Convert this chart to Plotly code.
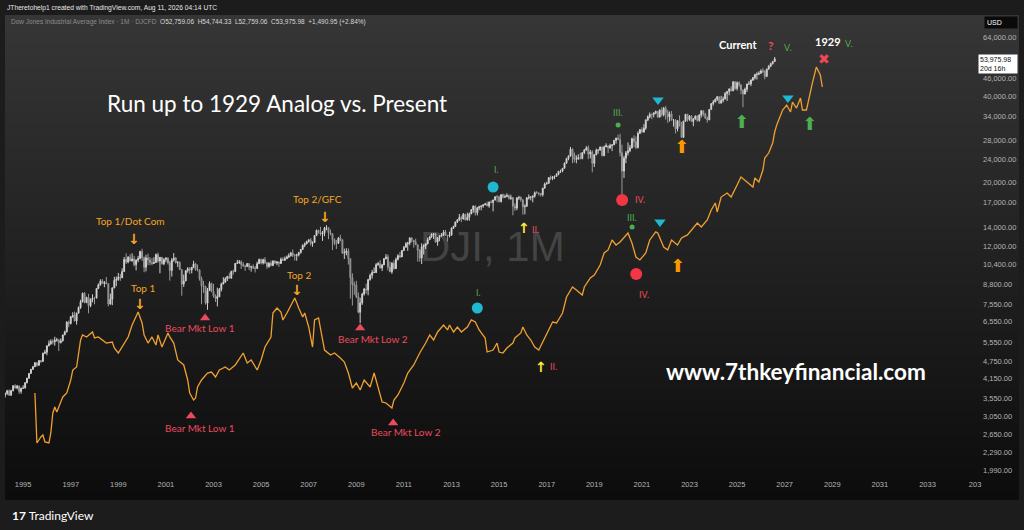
import base64
import math
import struct
import zlib

import pandas as pd
import plotly.graph_objects as go

# DJI monthly candles, Mar 1994 .. Aug 2026 (open = previous close)
first_open = 3829
closes = [
    # 1994 (Mar-Dec)
    3636, 3682, 3758, 3625, 3765, 3913, 3843, 3908, 3739, 3834,
    # 1995
    3844, 4011, 4158, 4321, 4465, 4556, 4709, 4611, 4789, 4756, 5075, 5117,
    # 1996
    5395, 5486, 5587, 5569, 5643, 5655, 5529, 5616, 5882, 6029, 6522, 6448,
    # 1997
    6813, 6878, 6584, 7009, 7331, 7673, 8223, 7622, 7945, 7442, 7823, 7908,
    # 1998
    7907, 8546, 8800, 9063, 8900, 8952, 8883, 7539, 7843, 8592, 9117, 9181,
    # 1999
    9359, 9307, 9786, 10789, 10560, 10971, 10655, 10829, 10337, 10729, 10878, 11497,
    # 2000
    10940, 10128, 10922, 10734, 10522, 10448, 10522, 11215, 10651, 10971, 10415, 10787,
    # 2001
    10887, 10495, 9879, 10735, 10912, 10502, 10523, 9950, 8848, 9075, 9852, 10022,
    # 2002
    9920, 10106, 10404, 9946, 9925, 9243, 8737, 8664, 7592, 8397, 8896, 8342,
    # 2003
    8054, 7891, 7992, 8480, 8850, 8985, 9234, 9416, 9275, 9801, 9782, 10454,
    # 2004
    10488, 10584, 10358, 10226, 10188, 10435, 10140, 10174, 10080, 10027, 10428, 10783,
    # 2005
    10490, 10766, 10504, 10193, 10467, 10275, 10641, 10482, 10569, 10440, 10806, 10718,
    # 2006
    10865, 10993, 11109, 11367, 11168, 11150, 11186, 11381, 11679, 12081, 12222, 12463,
    # 2007
    12622, 12269, 12354, 13063, 13628, 13409, 13212, 13358, 13896, 13930, 13372, 13265,
    # 2008
    12650, 12266, 12263, 12820, 12638, 11350, 11378, 11544, 10851, 9325, 8829, 8776,
    # 2009
    8001, 7063, 7609, 8168, 8500, 8447, 9172, 9496, 9712, 9713, 10345, 10428,
    # 2010
    10067, 10325, 10857, 11009, 10137, 9774, 10466, 10015, 10788, 11118, 11006, 11578,
    # 2011
    11892, 12226, 12320, 12811, 12570, 12414, 12143, 11614, 10913, 11955, 12046, 12218,
    # 2012
    12633, 12952, 13212, 13214, 12393, 12880, 13009, 13091, 13437, 13096, 13026, 13104,
    # 2013
    13861, 14054, 14579, 14840, 15116, 14910, 15500, 14810, 15130, 15546, 16086, 16577,
    # 2014
    15699, 16322, 16458, 16581, 16717, 16827, 16563, 17098, 17043, 17391, 17828, 17823,
    # 2015
    17165, 18133, 17776, 17841, 18011, 17620, 17690, 16528, 16285, 17664, 17720, 17425,
    # 2016
    16466, 16517, 17685, 17774, 17787, 17930, 18432, 18401, 18308, 18142, 19124, 19763,
    # 2017
    19864, 20812, 20663, 20941, 21009, 21350, 21891, 21948, 22405, 23377, 24272, 24719,
    # 2018
    26149, 25029, 24103, 24163, 24416, 24271, 25415, 25965, 26458, 25116, 25538, 23327,
    # 2019
    24999, 25916, 25929, 26593, 24815, 26600, 26864, 26403, 26917, 27046, 28051, 28538,
    # 2020
    28256, 25409, 21917, 24346, 25383, 25813, 26428, 28430, 27782, 26502, 29639, 30606,
    # 2021
    29983, 30932, 32982, 33875, 34529, 34503, 34935, 35361, 33844, 35820, 34484, 36338,
    # 2022
    35132, 33893, 34678, 32977, 32990, 30775, 32845, 31510, 28726, 32733, 34590, 33147,
    # 2023
    34086, 32657, 33274, 34098, 32908, 34408, 35560, 34722, 33508, 33053, 35951, 37690,
    # 2024
    38150, 38996, 39807, 37816, 38686, 39119, 40843, 41563, 42330, 41763, 44911, 42544,
    # 2025
    44545, 43841, 42002, 40669, 42270, 44095, 44131, 45545, 46398, 47563, 47716, 48060,
    # 2026 (Jan-Aug)
    49000, 48800, 46900, 49700, 50900, 51900, 52759.06, 53975.98,
]
highs = [
    3895, 3705, 3790, 3800, 3790, 3930, 3960, 3940, 3920, 3860,
    3930, 4025, 4175, 4330, 4480, 4590, 4730, 4720, 4800, 4810, 5110, 5220,
    5400, 5630, 5680, 5690, 5800, 5750, 5700, 5720, 5900, 6090, 6560, 6600,
    6850, 7060, 7100, 7040, 7400, 7800, 8260, 8300, 8000, 8180, 7900, 8150,
    7990, 8570, 8900, 9200, 9210, 9070, 9370, 8900, 8200, 8600, 9380, 9400,
    9680, 9600, 10050, 11000, 11330, 11080, 11250, 11330, 11100, 10800, 11100, 11570,
    11750, 11040, 11200, 11300, 11000, 10900, 10990, 11310, 11400, 11000, 10980, 10900,
    11000, 10980, 10650, 10900, 11350, 11000, 10650, 10620, 9950, 9550, 9900, 10140,
    10150, 10170, 10670, 10500, 10360, 9950, 9400, 9080, 8740, 8580, 9050, 8950,
    8870, 8150, 8600, 8580, 8950, 9350, 9350, 9450, 9690, 9850, 9930, 10460,
    10750, 10740, 10700, 10560, 10330, 10480, 10460, 10260, 10370, 10240, 10590, 10860,
    10850, 10850, 10990, 10570, 10550, 10680, 10720, 10720, 10650, 10600, 10950, 10990,
    11050, 11140, 11320, 11460, 11680, 11260, 11290, 11460, 11740, 12170, 12360, 12530,
    12690, 12800, 12470, 13130, 13700, 13690, 14020, 13550, 14010, 14200, 13800, 13720,
    13280, 12770, 12620, 12900, 13140, 12650, 11770, 11800, 11790, 10880, 9650, 9030,
    9090, 8280, 7930, 8260, 8580, 8880, 9240, 9630, 9920, 10120, 10470, 10580,
    10730, 10410, 10910, 11260, 11220, 10600, 10550, 10720, 10950, 11250, 11450, 11630,
    12020, 12390, 12420, 12880, 12880, 12620, 12750, 12150, 11720, 12280, 12190, 12290,
    12850, 13050, 13290, 13340, 13340, 12900, 13100, 13330, 13650, 13660, 13100, 13470,
    13960, 14150, 14600, 14890, 15540, 15340, 15660, 15550, 15710, 15720, 16170, 16590,
    16590, 16400, 16590, 16630, 16740, 16980, 17150, 17170, 17350, 17400, 17900, 18100,
    18000, 18200, 18290, 18170, 18350, 18170, 18130, 17820, 16930, 17800, 17980, 17900,
    17400, 16800, 17790, 18170, 17900, 18020, 18620, 18670, 18450, 18400, 19150, 19990,
    20130, 20890, 21170, 21070, 21120, 21530, 21930, 22180, 22420, 23490, 24330, 24880,
    26620, 26310, 25450, 24860, 25090, 25400, 25520, 26170, 26770, 26950, 25980, 25900,
    25100, 26240, 26110, 26700, 26660, 26910, 27400, 26900, 27310, 27200, 28170, 28700,
    29370, 29570, 27100, 24770, 25760, 27580, 27050, 28650, 29200, 28960, 30120, 30640,
    31190, 31960, 33260, 34260, 35090, 34850, 35170, 35630, 35510, 35890, 36570, 36680,
    36950, 35820, 35370, 35490, 33270, 33270, 32910, 34280, 32500, 32830, 34600, 34710,
    34340, 34330, 33570, 34260, 34260, 34590, 35680, 35680, 34980, 34000, 36000, 37780,
    38790, 39290, 40050, 39880, 40080, 39870, 41380, 41590, 42630, 43330, 45070, 45070,
    45050, 45070, 43400, 42200, 42840, 44200, 45150, 45760, 46710, 47850, 48430, 48890,
    49600, 50100, 49300, 49900, 51300, 52300, 53100, 54744.33,
]
lows = [
    3590, 3560, 3630, 3610, 3620, 3740, 3830, 3800, 3670, 3670,
    3820, 3830, 3990, 4140, 4310, 4440, 4550, 4560, 4600, 4700, 4750, 5050,
    5000, 5370, 5430, 5450, 5400, 5580, 5170, 5500, 5580, 5880, 6000, 6260,
    6400, 6750, 6550, 6390, 7000, 7250, 7650, 7600, 7600, 7000, 7350, 7650,
    7530, 7900, 8500, 8740, 8880, 8630, 8880, 7400, 7500, 7470, 8550, 8700,
    9090, 9080, 9300, 9800, 10400, 10460, 10650, 10600, 10200, 9880, 10540, 10800,
    10650, 9730, 9800, 10300, 10300, 10300, 10400, 10600, 10500, 9650, 10350, 10300,
    10550, 10350, 9100, 9400, 10600, 10450, 10150, 9900, 8060, 8650, 9130, 9700,
    9600, 9650, 10100, 9850, 9800, 9100, 7530, 8250, 7500, 7200, 8400, 8290,
    7940, 7670, 7400, 7990, 8340, 8840, 8960, 9070, 9260, 9350, 9550, 9780,
    10420, 10420, 10000, 10200, 9850, 10150, 9900, 9780, 10000, 9710, 10000, 10400,
    10360, 10360, 10400, 10000, 10090, 10200, 10220, 10400, 10300, 10160, 10400, 10650,
    10660, 10800, 10920, 11040, 11000, 10700, 10680, 11050, 11320, 11650, 11900, 12180,
    12340, 12050, 11940, 12350, 13080, 13270, 13050, 12520, 13000, 13630, 12700, 13100,
    11630, 12100, 11730, 12260, 12480, 11290, 10830, 11150, 10350, 7880, 7450, 8120,
    7910, 7000, 6470, 7490, 8070, 8200, 8090, 9100, 9250, 9670, 9670, 10250,
    10030, 9830, 10400, 10780, 9870, 9740, 9610, 9940, 10000, 10700, 10920, 11000,
    11560, 11920, 11560, 12090, 12360, 11860, 12100, 10600, 10600, 10400, 11230, 11730,
    12200, 12610, 12800, 12710, 12390, 12040, 12490, 12980, 13050, 13050, 12470, 12880,
    13100, 13780, 14000, 14450, 14680, 14550, 14900, 14760, 14770, 14720, 15520, 15700,
    15340, 15370, 16020, 16000, 16330, 16690, 16560, 16330, 16920, 15860, 17300, 17070,
    17040, 17030, 17580, 17690, 17800, 17450, 17400, 15370, 15940, 16010, 17400, 17140,
    15450, 15500, 16470, 17440, 17330, 17060, 17710, 18290, 17990, 17880, 17880, 19020,
    19680, 19830, 20410, 20380, 20550, 21000, 21200, 21600, 21710, 22420, 23240, 23920,
    24700, 23360, 23510, 23340, 24010, 24080, 24080, 25120, 25840, 24120, 24270, 21710,
    22640, 24880, 25200, 25920, 24680, 24710, 26620, 25340, 26200, 25740, 27320, 27330,
    28170, 24680, 18210, 20740, 23360, 24840, 25520, 26260, 26540, 26140, 26270, 29600,
    29850, 29880, 30550, 32780, 33470, 33270, 33740, 34620, 33610, 33690, 34010, 34010,
    33150, 32270, 32630, 32910, 31350, 29650, 30140, 31350, 28720, 28660, 32580, 32570,
    32810, 32630, 31430, 33140, 32590, 32600, 33700, 34030, 33470, 32330, 33080, 35970,
    37120, 38120, 38490, 37610, 37820, 38080, 39010, 38500, 40300, 41560, 41640, 42090,
    41840, 43000, 40660, 36610, 40990, 41350, 43880, 43340, 45160, 45730, 45730, 47340,
    47900, 48200, 45800, 46600, 49400, 50500, 51600, 52759.06,
]

# 1929 analog (orange line)
analog_months = [
    "1995-07", "1995-08", "1995-10", "1995-11", "1995-12", "1996-02", "1996-03", "1996-04",
    "1996-05", "1996-06", "1996-08", "1996-09", "1996-11", "1997-01", "1997-02", "1997-04",
    "1997-06", "1997-07", "1997-09", "1997-12", "1998-01", "1998-03", "1998-05", "1998-07",
    "1998-10", "1998-11", "1999-01", "1999-03", "1999-06", "1999-08", "1999-09", "1999-11",
    "2000-01", "2000-02", "2000-04", "2000-06", "2000-08", "2000-09", "2000-11", "2001-02",
    "2001-03", "2001-05", "2001-07", "2001-10", "2001-12", "2002-01", "2002-03", "2002-04",
    "2002-05", "2002-07", "2002-10", "2002-12", "2003-02", "2003-04", "2003-07", "2003-09",
    "2003-12", "2004-01", "2004-04", "2004-06", "2004-08", "2004-11", "2005-01", "2005-03",
    "2005-06", "2005-07", "2005-09", "2005-11", "2005-12", "2006-02", "2006-04", "2006-06",
    "2006-08", "2006-10", "2006-11", "2007-01", "2007-03", "2007-04", "2007-06", "2007-08",
    "2007-09", "2007-12", "2008-02", "2008-05", "2008-07", "2008-09", "2008-11", "2009-01",
    "2009-03", "2009-05", "2009-08", "2009-10", "2009-12", "2010-02", "2010-04", "2010-07",
    "2010-08", "2010-10", "2011-01", "2011-03", "2011-06", "2011-09", "2011-12", "2012-02",
    "2012-04", "2012-06", "2012-09", "2012-11", "2012-12", "2013-02", "2013-04", "2013-06",
    "2013-09", "2013-11", "2014-01", "2014-03", "2014-06", "2014-07", "2014-10", "2014-12",
    "2015-01", "2015-03", "2015-05", "2015-08", "2015-09", "2015-12", "2016-01", "2016-03",
    "2016-05", "2016-07", "2016-09", "2016-11", "2017-02", "2017-04", "2017-06", "2017-09",
    "2017-11", "2018-02", "2018-04", "2018-07", "2018-08", "2018-11", "2019-01", "2019-04",
    "2019-06", "2019-08", "2019-10", "2019-12", "2020-02", "2020-04", "2020-06", "2020-08",
    "2020-10", "2020-12", "2021-03", "2021-05", "2021-08", "2021-09", "2021-12", "2022-02",
    "2022-04", "2022-07", "2022-09", "2022-12", "2023-02", "2023-05", "2023-07", "2023-10",
    "2023-12", "2024-02", "2024-03", "2024-05", "2024-08", "2024-10", "2025-01", "2025-03",
    "2025-06", "2025-09", "2025-10", "2025-12", "2026-02", "2026-03", "2026-05", "2026-07",
    "2026-08", "2026-09", "2026-11", "2026-12", "2027-02", "2027-04", "2027-05", "2027-07",
    "2027-09", "2027-10", "2027-12", "2028-02", "2028-03", "2028-05", "2028-07", "2028-08",
]
analog_vals = [
    3693, 2472, 2594, 2636, 2492, 2472, 2679, 3145,
    3301, 3170, 3436, 3576, 3693, 4099, 4440, 4550,
    5650, 5882, 5789, 6026, 5742, 5789, 5650, 5515,
    5560, 5298, 5090, 5341, 5789, 6374, 6635, 7075,
    6477, 5882, 5515, 5789, 5428, 5882, 5341, 5978,
    5789, 5515, 4813, 4624, 4099, 3693, 3491, 3547,
    3875, 4099, 4335, 4370, 4198, 4440, 4550, 4440,
    4624, 4736, 5090, 4698, 4813, 4440, 4813, 5341,
    5789, 7018, 7305, 7075, 6635, 7018, 7484, 7915,
    7305, 6797, 7018, 6272, 5341, 6635, 6742, 5789,
    5213, 5009, 5090, 4890, 4736, 4335, 3844, 4001,
    3783, 4099, 3875, 4335, 3875, 3436, 3408, 3274,
    3491, 3634, 4001, 4335, 4624, 5090, 5515, 5882,
    5650, 6026, 6374, 6124, 6374, 6026, 6272, 6026,
    6272, 6635, 6528, 6124, 5742, 5131, 5213, 5515,
    5131, 5090, 5298, 5515, 5742, 5978, 6272, 5882,
    5650, 5341, 5213, 5560, 6124, 6528, 6477, 7018,
    7980, 8646, 8440, 8110, 8646, 9295, 9520, 10310,
    11360, 11640, 12610, 12110, 12410, 12910, 13340, 12310,
    11000, 10740, 11360, 12610, 13450, 13340, 11920, 11640,
    12610, 12110, 12810, 13130, 13660, 14450, 14000, 14810,
    16040, 16970, 15790, 17800, 18390, 17800, 19610, 20900,
    20080, 19290, 20740, 20080, 22110, 24350, 25340, 27470,
    30000, 31740, 34390, 35800, 37250, 35230, 38160, 36370,
    39400, 35800, 35800, 42030, 44440, 50530, 47400, 43050,
]

price_ticks = [64000, 46000, 40000, 34000, 28000, 24000, 20000, 17000, 14000, 12000,
               10400, 8800, 7550, 6550, 5550, 4750, 4150, 3550, 3050, 2650, 2290, 1990]
year_ticks = list(range(1995, 2037, 2))

# chart markers (date, price)
cyan_dots = (["2014-10-01", "2014-02-01"], [19290, 7305])
red_dots = (["2020-03-03", "2020-10-05"], [17380, 9596])
green_dots = (["2020-01-01", "2020-08-03"], [31740, 14000])
cyan_tri = (["2021-09-05", "2021-10-05", "2027-02-20"], [38780, 14570, 39400])
red_tri = (["2002-08-25", "2002-01-20", "2009-03-01", "2010-07-20"], [6742, 3070, 6222, 2903])

ORANGE = "#f5a623"
RED = "#ec4a5c"
GREEN = "#4caf50"
CYAN = "#1fb8d0"
YELLOW = "#ffeb3b"
WHITE = "#ffffff"

labels = [
    ("Top 1/Dot Com", "1999-07-01", 14690, ORANGE, 10),
    ("Top 1", "2000-01-15", 8580, ORANGE, 10),
    ("Top 2/GFC", "2007-05-20", 17520, ORANGE, 10),
    ("Top 2", "2006-08-20", 9520, ORANGE, 10),
    ("Bear Mkt Low 1", "2002-06-10", 6222, RED, 10),
    ("Bear Mkt Low 1", "2002-06-10", 2789, RED, 10),
    ("Bear Mkt Low 2", "2009-09-15", 5695, RED, 10),
    ("Bear Mkt Low 2", "2011-02-01", 2701, RED, 10),
    ("I.", "2014-11-15", 22290, GREEN, 9),
    ("I.", "2014-02-15", 8240, GREEN, 9),
    ("II.", "2016-07-20", 13770, RED, 9),
    ("II.", "2017-04-20", 4550, RED, 9),
    ("III.", "2020-01-01", 34950, GREEN, 9),
    ("III.", "2020-08-03", 15160, GREEN, 9),
    ("IV.", "2020-12-01", 17520, RED, 9),
    ("IV.", "2021-02-01", 8110, RED, 9),
    ("<b>Current</b>", "2025-01-15", 60770, WHITE, 11),
    ("<b>?</b>", "2026-06-05", 60280, RED, 12),
    ("V.", "2027-02-20", 59330, GREEN, 9),
    ("<b>1929</b>", "2028-10-25", 62260, WHITE, 11),
    ("V.", "2029-09-15", 61270, GREEN, 9),
]
glyphs = [
    ("<b>↓</b>", "1999-08-28", 12710, ORANGE, 14),
    ("<b>↓</b>", "1999-12-01", 7545, ORANGE, 14),
    ("<b>↓</b>", "2007-09-10", 15160, ORANGE, 14),
    ("<b>↓</b>", "2006-07-05", 8440, ORANGE, 14),
    ("<b>↑</b>", "2016-01-20", 13890, YELLOW, 14),
    ("<b>↑</b>", "2016-10-05", 4550, YELLOW, 14),
    ("⬆", "2022-09-08", 26600, "#ff9800", 18),
    ("⬆", "2022-07-08", 10310, "#ff9800", 18),
    ("⬆", "2025-03-03", 32770, GREEN, 18),
    ("⬆", "2028-01-10", 32250, GREEN, 18),
    ("✖", "2028-08-27", 53890, "#f04858", 14),
]


def gradient_png(top, bottom, h=256):
    raw = b""
    for i in range(h):
        f = i / (h - 1)
        px = bytes(round(top[k] + (bottom[k] - top[k]) * f) for k in range(3))
        raw += b"\x00" + px + px

    def chunk(tag, data):
        return (struct.pack(">I", len(data)) + tag + data
                + struct.pack(">I", zlib.crc32(tag + data) & 0xFFFFFFFF))

    png = (b"\x89PNG\r\n\x1a\n"
           + chunk(b"IHDR", struct.pack(">IIBBBBB", 2, h, 8, 2, 0, 0, 0))
           + chunk(b"IDAT", zlib.compress(raw))
           + chunk(b"IEND", b""))
    return "data:image/png;base64," + base64.b64encode(png).decode()


dates = pd.date_range("1994-03-01", periods=len(closes), freq="MS")
opens = [first_open] + closes[:-1]
hi = [max(h, o, c) for h, o, c in zip(highs, opens, closes)]
lo = [min(l, o, c) for l, o, c in zip(lows, opens, closes)]

fig = go.Figure()

fig.add_trace(go.Candlestick(
    x=dates, open=opens, high=hi, low=lo, close=closes,
    increasing=dict(line=dict(color="#d0d0d0", width=1), fillcolor="#eeeeee"),
    decreasing=dict(line=dict(color="#9a9a9a", width=1), fillcolor="#6a6a6a"),
    hoverinfo="skip"))

fig.add_trace(go.Scatter(x=analog_months, y=analog_vals, mode="lines",
                         line=dict(color="#f0a030", width=1.3), hoverinfo="skip"))

for (xs, ys), color, sym, size in [(cyan_dots, CYAN, "circle", 11),
                                   (red_dots, "#f23645", "circle", 12),
                                   (green_dots, GREEN, "circle", 5),
                                   (cyan_tri, CYAN, "triangle-down", 10),
                                   (red_tri, RED, "triangle-up", 9)]:
    fig.add_trace(go.Scatter(x=xs, y=ys, mode="markers", hoverinfo="skip",
                             marker=dict(symbol=sym, size=size, color=color, line=dict(width=0))))

# annotations on a log axis take log10 of the price
annotations = []
for text, d, v, color, size in labels:
    annotations.append(dict(text=text, x=d, y=math.log10(v), xref="x", yref="y",
                            showarrow=False, xanchor="center", yanchor="middle",
                            font=dict(family="Lato", size=size, color=color)))
for text, d, v, color, size in glyphs:
    annotations.append(dict(text=text, x=d, y=math.log10(v), xref="x", yref="y",
                            showarrow=False, xanchor="center", yanchor="middle",
                            font=dict(family="DejaVu Sans", size=size, color=color)))

# plot area spans x 5..978 px, y 15..478 px
annotations += [
    dict(text="DJI, 1M", x=0.5015, y=0.499, xref="paper", yref="paper", showarrow=False,
         xanchor="center", yanchor="middle",
         font=dict(family="Liberation Sans", size=42, color="rgba(255,255,255,0.17)")),
    dict(text="Run up to 1929 Analog vs. Present", x=0.2796, y=0.808, xref="paper", yref="paper",
         showarrow=False, xanchor="center", yanchor="middle",
         font=dict(family="Lato", size=22.5, color=WHITE)),
    dict(text="<b>www.7thkeyfinancial.com</b>", x=0.813, y=0.231, xref="paper", yref="paper",
         showarrow=False, xanchor="center", yanchor="middle",
         font=dict(family="Lato", size=22.5, color=WHITE)),
    dict(text="JTheretohelp1 created with TradingView.com, Aug 11, 2026 04:14 UTC",
         x=0.0, y=1.015, xref="paper", yref="paper", xanchor="left", yanchor="middle",
         showarrow=False, font=dict(family="Liberation Sans", size=6.7, color="#e6e6e6")),
    dict(text="<span style='color:#8c8c8c'>Dow Jones Industrial Average Index · 1M · DJCFD</span>"
              "  O52,759.06  H54,744.33  L52,759.06  C53,975.98  +1,490.95 (+2.84%)",
         x=0.004, y=0.985, xref="paper", yref="paper", xanchor="left", yanchor="middle",
         showarrow=False, font=dict(family="Liberation Sans", size=6.5, color="#d8d8d8")),
    dict(text="USD", x=1.006, y=0.983, xref="paper", yref="paper", xanchor="left",
         yanchor="middle", showarrow=False, bgcolor="#0a0a0a", borderpad=2, width=28,
         align="left", font=dict(family="Liberation Sans", size=7, color=WHITE)),
    dict(text="53,975.98<br>20d 16h", x=1.0, y=math.log10(closes[-1]), xref="paper", yref="y",
         xanchor="left", yanchor="top", yshift=5, showarrow=False, bgcolor=WHITE,
         borderpad=1, align="left", width=36,
         font=dict(family="Liberation Sans", size=7, color="#111111")),
    dict(text="<b>17</b> TradingView", x=0.005, y=-0.08, xref="paper", yref="paper",
         xanchor="left", yanchor="middle", showarrow=False,
         font=dict(family="Lato", size=12, color=WHITE)),
]

fig.update_layout(
    width=1024, height=530, margin=dict(l=5, r=46, t=15, b=52),
    paper_bgcolor="#1c1c1c", plot_bgcolor="#1c1c1c", showlegend=False,
    annotations=annotations,
    images=[dict(source=gradient_png((54, 54, 54), (12, 12, 12)), xref="paper", yref="paper",
                 x=0, y=1, sizex=1014 / 973, sizey=485 / 463, sizing="stretch",
                 xanchor="left", yanchor="top", layer="below")],
    xaxis=dict(type="date", range=["1994-03-29", "2035-02-15"], showgrid=False, zeroline=False,
               automargin=False, rangeslider=dict(visible=False), ticks="",
               tickvals=[f"{y}-01-01" for y in year_ticks],
               ticktext=[str(y) if y < 2035 else "203" for y in year_ticks],
               tickfont=dict(family="Liberation Sans", size=7.5, color="#b4b4b4")),
    yaxis=dict(type="log", range=[3.271, 4.885], side="right", showgrid=False, zeroline=False,
               automargin=False, ticks="", ticklabelstandoff=4, tickvals=price_ticks,
               ticktext=[f"{v:,.2f}" for v in price_ticks],
               tickfont=dict(family="Liberation Sans", size=7.5, color="#b4b4b4")),
)

fig.write_html("out.html", config={"displayModeBar": False},
               post_script="document.body.style.margin='0';")
